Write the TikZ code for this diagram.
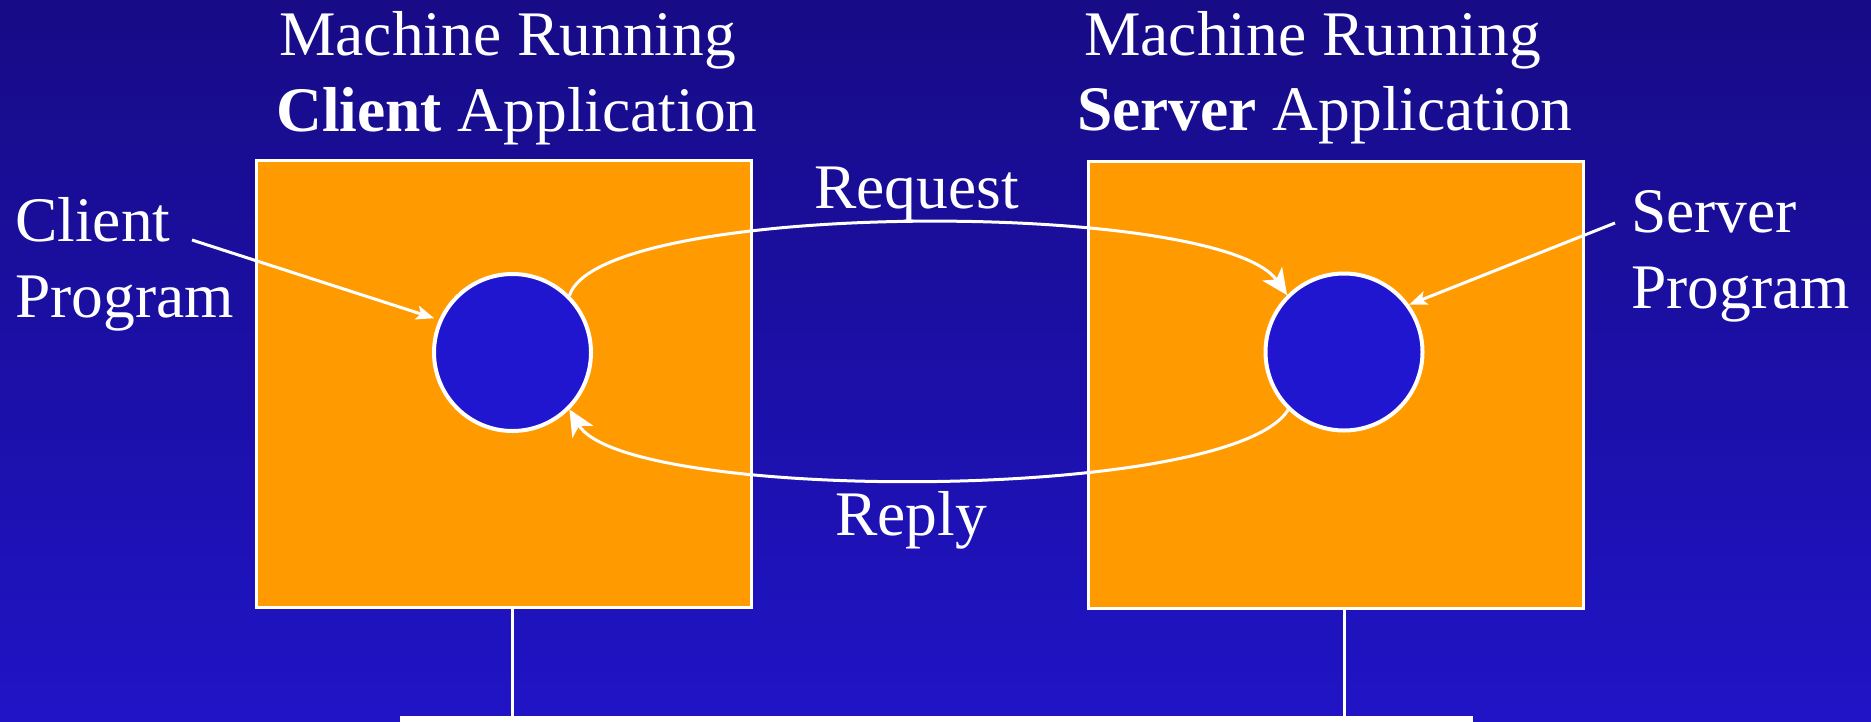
\documentclass[tikz,border=0pt]{standalone}
\usepackage{fontspec}
\setmainfont{Liberation Serif}
\usetikzlibrary{arrows.meta}

\definecolor{bgtop}{RGB}{23,11,134}
\definecolor{bgbot}{RGB}{32,20,198}
\definecolor{boxorange}{RGB}{255,155,0}
\definecolor{progblue}{RGB}{33,22,208}

\begin{document}
\begin{tikzpicture}[x=1pt,y=-1pt,
  lbl/.style={text=white, font=\fontsize{63.5pt}{76pt}\selectfont, inner sep=0pt, anchor=base west},
  machine/.style={draw=white, line width=3pt, fill=boxorange, minimum width=495pt, minimum height=447pt, inner sep=0pt},
  prog/.style={circle, draw=white, line width=4pt, fill=progblue, minimum size=157pt, inner sep=0pt},
  msg/.style={draw=white, line width=3pt, -{Stealth[length=26pt,width=24pt,inset=7pt]}},
  ptr/.style={draw=white, line width=3pt, -{Stealth[length=18pt,width=14pt,inset=4pt]}},
  wire/.style={draw=white, line width=3pt}]

% canvas and backdrop
\useasboundingbox (0,0) rectangle (1871,721);
\shade[top color=bgtop, bottom color=bgbot] (0,0) rectangle (1871,721);

% the two machines
\node[machine] (lbox) at (503.5,384) {};
\node[machine] (rbox) at (1336,384.5) {};

% the programs running on them
\node[prog] (lprog) at (512.5,352.5) {};
\node[prog] (rprog) at (1344,352) {};

% titles
\node[lbl] (ltitle1) at (279,55) {Machine Running};
\node[lbl] (ltitle2) at (276,131) {\textbf{Client} Application};
\node[lbl] (rtitle1) at (1084,55) {Machine Running};
\node[lbl] (rtitle2) at (1077,130) {\textbf{Server} Application};

% message labels
\node[lbl] (req) at (814,208) {Request};
\node[lbl] (rep) at (835,535) {Reply};

% program labels
\node[lbl] (cl1) at (15,241) {Client};
\node[lbl] (cl2) at (15,317) {Program};
\node[lbl] (sv1) at (1631,232) {Server};
\node[lbl] (sv2) at (1631,308) {Program};

% label pointers
\coordinate (cptr) at (192,240);
\draw[ptr, shorten >=5pt] (cptr) -- (lprog.156);
\coordinate (sptr) at (1615,223);
\draw[ptr] (sptr) -- (rprog.36);

% request and reply
\draw[msg] (lprog.45) .. controls (600,199) and (1220,199) .. (rprog.135);
\draw[msg] (rprog.-134) .. controls (1230,503) and (625,503) .. (lprog.-45);

% network
\node[fill=white, inner sep=0pt, minimum width=1073pt, minimum height=8pt, anchor=north west] (bar) at (400,716) {};
\draw[wire] (lbox.south -| lprog) -- (bar.north -| lprog);
\draw[wire] (rbox.south -| rprog) -- (bar.north -| rprog);
\end{tikzpicture}
\end{document}
